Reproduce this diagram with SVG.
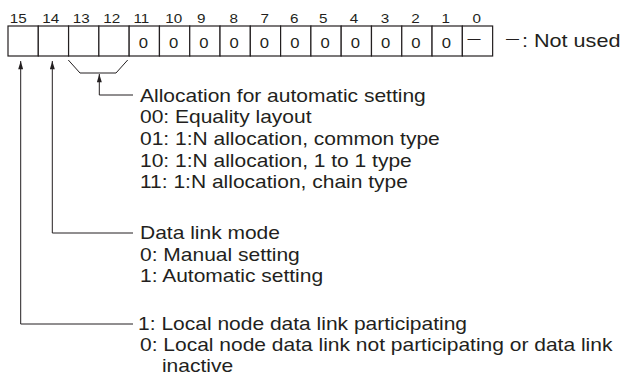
<svg xmlns="http://www.w3.org/2000/svg" width="625" height="378" viewBox="0 0 625 378">
<style>
text{font-family:"Liberation Sans",Arial,sans-serif;fill:#231f20}
.bit{font-size:12.5px;text-anchor:middle}
.cellv{font-size:14.5px;text-anchor:middle}
.desc{font-size:17.5px}
.cell{fill:#fff;stroke:#231f20;stroke-width:1.2}
.conn{fill:none;stroke:#231f20;stroke-width:1}
</style>
<defs>
<marker id="ah" viewBox="0 0 10 6" refX="10" refY="3" markerWidth="9" markerHeight="5" markerUnits="userSpaceOnUse" orient="auto-start-reverse">
<path d="M0,0 L10,3 L0,6 z" fill="#231f20"/>
</marker>
</defs>

<g id="bit-numbers">
<text class="bit" transform="translate(18.3,22.5) scale(1.22,1)">15</text>
<text class="bit" transform="translate(50.8,22.5) scale(1.22,1)">14</text>
<text class="bit" transform="translate(81.3,22.5) scale(1.22,1)">13</text>
<text class="bit" transform="translate(111.7,22.5) scale(1.22,1)">12</text>
<text class="bit" transform="translate(141.3,22.5) scale(1.22,1)">11</text>
<text class="bit" transform="translate(173.8,22.5) scale(1.22,1)">10</text>
<text class="bit" transform="translate(201.2,22.5) scale(1.22,1)">9</text>
<text class="bit" transform="translate(233.7,22.5) scale(1.22,1)">8</text>
<text class="bit" transform="translate(264.7,22.5) scale(1.22,1)">7</text>
<text class="bit" transform="translate(294.2,22.5) scale(1.22,1)">6</text>
<text class="bit" transform="translate(323.3,22.5) scale(1.22,1)">5</text>
<text class="bit" transform="translate(354,22.5) scale(1.22,1)">4</text>
<text class="bit" transform="translate(385,22.5) scale(1.22,1)">3</text>
<text class="bit" transform="translate(415.5,22.5) scale(1.22,1)">2</text>
<text class="bit" transform="translate(445.8,22.5) scale(1.22,1)">1</text>
<text class="bit" transform="translate(476.7,22.5) scale(1.22,1)">0</text>
</g>

<g id="register">
<rect class="cell" x="8" y="26" width="30.29" height="30"/>
<rect class="cell" x="38.29" y="26" width="30.29" height="30"/>
<rect class="cell" x="68.58" y="26" width="30.29" height="30"/>
<rect class="cell" x="98.87" y="26" width="30.29" height="30"/>
<rect class="cell" x="129.16" y="26" width="30.29" height="30"/>
<rect class="cell" x="159.45" y="26" width="30.29" height="30"/>
<rect class="cell" x="189.74" y="26" width="30.29" height="30"/>
<rect class="cell" x="220.03" y="26" width="30.29" height="30"/>
<rect class="cell" x="250.32" y="26" width="30.29" height="30"/>
<rect class="cell" x="280.61" y="26" width="30.29" height="30"/>
<rect class="cell" x="310.9" y="26" width="30.29" height="30"/>
<rect class="cell" x="341.19" y="26" width="30.29" height="30"/>
<rect class="cell" x="371.48" y="26" width="30.29" height="30"/>
<rect class="cell" x="401.77" y="26" width="30.29" height="30"/>
<rect class="cell" x="432.06" y="26" width="30.29" height="30"/>
<rect class="cell" x="462.35" y="26" width="30.29" height="30"/>
<text class="cellv" transform="translate(143.3,47.8) scale(1.15,1)">0</text>
<text class="cellv" transform="translate(173.6,47.8) scale(1.15,1)">0</text>
<text class="cellv" transform="translate(203.9,47.8) scale(1.15,1)">0</text>
<text class="cellv" transform="translate(234.2,47.8) scale(1.15,1)">0</text>
<text class="cellv" transform="translate(264.5,47.8) scale(1.15,1)">0</text>
<text class="cellv" transform="translate(294.8,47.8) scale(1.15,1)">0</text>
<text class="cellv" transform="translate(325.1,47.8) scale(1.15,1)">0</text>
<text class="cellv" transform="translate(355.4,47.8) scale(1.15,1)">0</text>
<text class="cellv" transform="translate(385.7,47.8) scale(1.15,1)">0</text>
<text class="cellv" transform="translate(416,47.8) scale(1.15,1)">0</text>
<text class="cellv" transform="translate(446.3,47.8) scale(1.15,1)">0</text>
<text x="474" y="43" style="font-size:13px;text-anchor:middle">—</text>
</g>

<g id="legend">
<text x="506" y="43" style="font-size:13px">—</text>
<text transform="translate(522,46.7) scale(1.2,1)" style="font-size:18px">: Not used</text>
</g>

<g id="connectors">
<path class="conn" d="M68.3,60 L80,73 L116,73 L127.7,60"/>
<path class="conn" d="M99.3,74 L99.3,95 L133,95" marker-start="url(#ah)"/>
<path class="conn" d="M52.3,61 L52.3,233 L133,233" marker-start="url(#ah)"/>
<path class="conn" d="M20.7,61 L20.7,324 L133,324" marker-start="url(#ah)"/>
</g>

<g id="allocation" transform="translate(140,0) scale(1.2,1)">
<text class="desc" x="0" y="101.7">Allocation for automatic setting</text>
<text class="desc" x="0" y="123.3">00: Equality layout</text>
<text class="desc" x="0" y="145">01: 1:N allocation, common type</text>
<text class="desc" x="0" y="166.7">10: 1:N allocation, 1 to 1 type</text>
<text class="desc" x="0" y="188.3">11: 1:N allocation, chain type</text>
</g>

<g id="data-link-mode" transform="translate(140,0) scale(1.2,1)">
<text class="desc" x="0" y="239">Data link mode</text>
<text class="desc" x="0" y="260.7">0: Manual setting</text>
<text class="desc" x="0" y="282.3">1: Automatic setting</text>
</g>

<g id="participation" transform="translate(140,0) scale(1.2,1)">
<text class="desc" x="-1.6" y="330">1: Local node data link participating</text>
<text class="desc" x="0" y="351.3">0: Local node data link not participating or data link</text>
<text class="desc" x="18.3" y="372.5">inactive</text>
</g>
</svg>
